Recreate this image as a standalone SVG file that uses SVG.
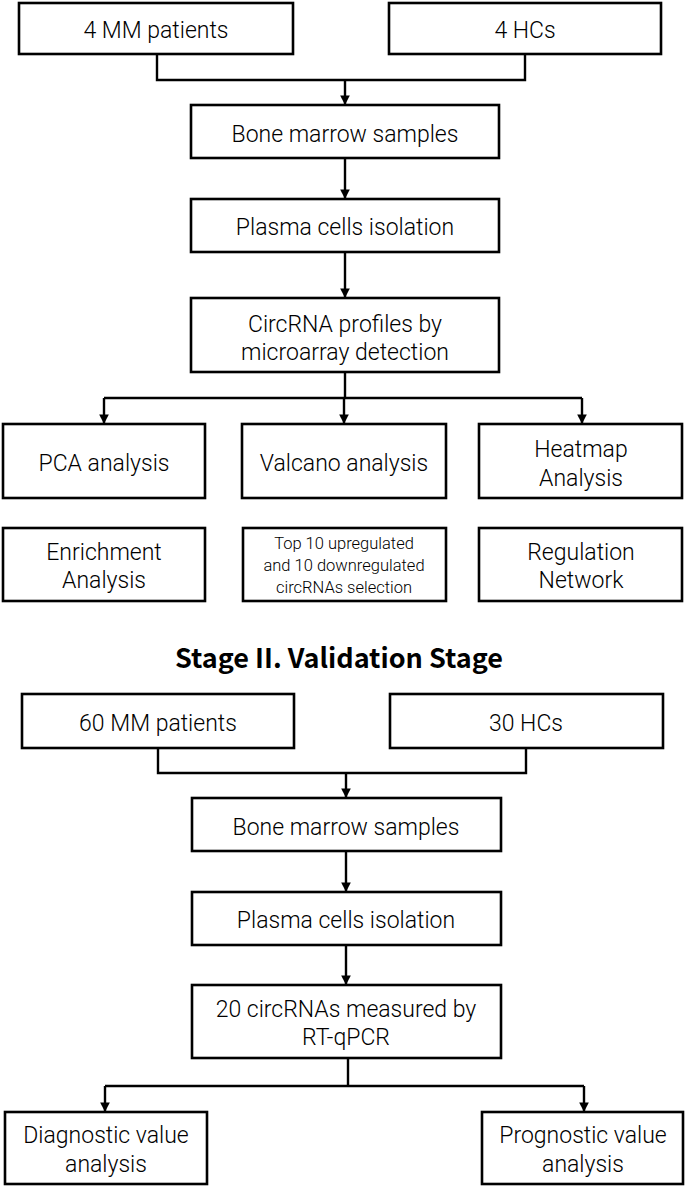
<svg xmlns="http://www.w3.org/2000/svg" width="685" height="1187" viewBox="0 0 685 1187">
<defs>
<style>
.box{fill:#fff;stroke:#000;stroke-width:2.6}
.t{font-family:Roboto,"Liberation Sans",sans-serif;font-size:23px;font-weight:300;fill:#000;text-anchor:middle}
.s{font-size:16.5px}
.h{font-family:"Noto Sans CJK SC","Liberation Sans",sans-serif;font-size:27px;font-weight:700;fill:#000;text-anchor:middle}
.c{fill:none;stroke:#000;stroke-width:2.4}
</style>
<marker id="ah" viewBox="0 0 10 10" refX="10" refY="5" markerWidth="4" markerHeight="4" orient="auto" markerUnits="strokeWidth">
<path d="M0,0 L10,5 L0,10 z" fill="#000"/>
</marker>
</defs>
<rect width="685" height="1187" fill="#fff"/>
<g id="connectors">
<path class="c" d="M157,54 V80 H525 V54"/>
<path class="c" d="M345,80 V105" marker-end="url(#ah)"/>
<path class="c" d="M345,158 V199" marker-end="url(#ah)"/>
<path class="c" d="M345,252 V298" marker-end="url(#ah)"/>
<path class="c" d="M345,372 V398"/>
<path class="c" d="M104,398 H582"/>
<path class="c" d="M104,398 V424" marker-end="url(#ah)"/>
<path class="c" d="M344,398 V424" marker-end="url(#ah)"/>
<path class="c" d="M582,398 V424" marker-end="url(#ah)"/>
<path class="c" d="M158,748 V773 H526 V748"/>
<path class="c" d="M346,773 V798" marker-end="url(#ah)"/>
<path class="c" d="M346,851 V892" marker-end="url(#ah)"/>
<path class="c" d="M346,945 V985" marker-end="url(#ah)"/>
<path class="c" d="M348,1058 V1086"/>
<path class="c" d="M105,1086 H584"/>
<path class="c" d="M105,1086 V1112" marker-end="url(#ah)"/>
<path class="c" d="M584,1086 V1112" marker-end="url(#ah)"/>
</g>
<g id="n1"><rect class="box" x="19" y="3" width="274" height="51"/><text class="t" x="156" y="38">4 MM patients</text></g>
<g id="n2"><rect class="box" x="389" y="3" width="272" height="51"/><text class="t" x="525" y="38">4 HCs</text></g>
<g id="n3"><rect class="box" x="191" y="105" width="308" height="53"/><text class="t" x="345" y="142">Bone marrow samples</text></g>
<g id="n4"><rect class="box" x="191" y="199" width="308" height="53"/><text class="t" x="345" y="235">Plasma cells isolation</text></g>
<g id="n5"><rect class="box" x="191" y="298" width="308" height="74"/><text class="t" x="345" y="332">CircRNA profiles by</text><text class="t" x="345" y="360">microarray detection</text></g>
<g id="n6"><rect class="box" x="3" y="424" width="202" height="74"/><text class="t" x="104" y="471">PCA analysis</text></g>
<g id="n7"><rect class="box" x="242" y="424" width="204" height="74"/><text class="t" x="344" y="471">Valcano analysis</text></g>
<g id="n8"><rect class="box" x="479" y="424" width="203" height="74"/><text class="t" x="581" y="457">Heatmap</text><text class="t" x="581" y="486">Analysis</text></g>
<g id="n9"><rect class="box" x="3" y="528" width="202" height="73"/><text class="t" x="104" y="560">Enrichment</text><text class="t" x="104" y="588">Analysis</text></g>
<g id="n10"><rect class="box" x="243" y="528" width="203" height="73"/><text class="t s" x="344" y="549">Top 10 upregulated</text><text class="t s" x="344" y="571">and 10 downregulated</text><text class="t s" x="344" y="593">circRNAs selection</text></g>
<g id="n11"><rect class="box" x="479" y="528" width="203" height="73"/><text class="t" x="581" y="560">Regulation</text><text class="t" x="581" y="588">Network</text></g>
<g id="title"><text class="h" x="339" y="668">Stage II. Validation Stage</text></g>
<g id="n12"><rect class="box" x="22" y="694" width="272" height="54"/><text class="t" x="158" y="731">60 MM patients</text></g>
<g id="n13"><rect class="box" x="390" y="694" width="273" height="54"/><text class="t" x="526" y="731">30 HCs</text></g>
<g id="n14"><rect class="box" x="192" y="798" width="309" height="53"/><text class="t" x="346" y="835">Bone marrow samples</text></g>
<g id="n15"><rect class="box" x="192" y="892" width="309" height="53"/><text class="t" x="346" y="928">Plasma cells isolation</text></g>
<g id="n16"><rect class="box" x="192" y="985" width="309" height="73"/><text class="t" x="346" y="1017">20 circRNAs measured by</text><text class="t" x="346" y="1045">RT-qPCR</text></g>
<g id="n17"><rect class="box" x="5" y="1112" width="202" height="72"/><text class="t" x="106" y="1143">Diagnostic value</text><text class="t" x="106" y="1172">analysis</text></g>
<g id="n18"><rect class="box" x="482" y="1112" width="201" height="72"/><text class="t" x="583" y="1143">Prognostic value</text><text class="t" x="583" y="1172">analysis</text></g>
</svg>
